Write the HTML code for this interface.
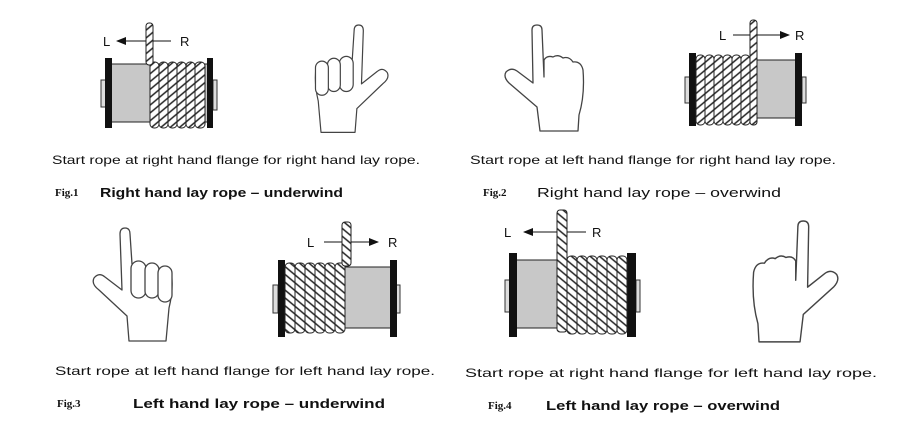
<!DOCTYPE html>
<html><head><meta charset="utf-8"><style>
html,body{margin:0;padding:0;background:#fff;width:899px;height:439px;overflow:hidden}
svg{display:block}
text{font-family:"Liberation Sans",Arial,sans-serif;fill:#111}
.cap{font-size:12px}
.fig{font-family:"Liberation Serif",serif;font-size:11px;font-weight:bold}
.tt{font-size:13px;font-weight:bold}
.lr{font-size:13px;fill:#111}
</style></head><body>
<svg width="899" height="439" viewBox="0 0 899 439" xmlns="http://www.w3.org/2000/svg">
<defs>
<pattern id="h1" width="6" height="6" patternUnits="userSpaceOnUse" patternTransform="rotate(-40)">
<rect width="6" height="6" fill="#fff"/><line x1="0" y1="3" x2="6" y2="3" stroke="#222" stroke-width="1.5"/></pattern>
<pattern id="h2" width="6" height="6" patternUnits="userSpaceOnUse" patternTransform="rotate(40)">
<rect width="6" height="6" fill="#fff"/><line x1="0" y1="3" x2="6" y2="3" stroke="#222" stroke-width="1.5"/></pattern>
<marker id="ar" markerWidth="10" markerHeight="8" refX="9" refY="4" orient="auto" markerUnits="userSpaceOnUse"><path d="M0,0 L10,4 L0,8 Z" fill="#111"/></marker>
<g id="handA" fill="#fff" stroke="#444" stroke-width="1.3" stroke-linejoin="round">
<path d="M38,113 L36,88 L8,62 Q0,56 3,50 Q8,44 14,49 L31,62 L29,6 Q29,0 34,0 Q39,0 39,6 L41,36 L80,42 Q83,60 78,80 L75,113 Z"/>
<rect x="40" y="33" width="15" height="37" rx="7.5"/>
<rect x="54" y="35" width="14" height="35" rx="7"/>
<rect x="67" y="38" width="14" height="36" rx="7"/>
</g>
<g id="handB" fill="#fff" stroke="#444" stroke-width="1.3" stroke-linejoin="round">
<path d="M37,106 L34,82 Q20,70 6,58 Q0,52 3,47 Q8,42 14,46 L30,58 L29,5 Q29,0 34,0 Q39,0 39,5 L41,52 L41,35 Q44,30 50,32 Q55,29 60,33 Q66,31 70,37 Q78,36 80,45 Q82,70 76,90 L75,106 Z"/>
</g>
</defs>

<!-- Fig1 drum -->
<rect x="101" y="80" width="5" height="27" fill="#ddd" stroke="#333"/>
<rect x="213" y="80" width="4" height="30" fill="#ddd" stroke="#333"/>
<rect x="111" y="64" width="97" height="58" fill="#c8c8c8" stroke="#222"/>
<rect x="105" y="58" width="7" height="70" fill="#111"/>
<rect x="207" y="58" width="6" height="70" fill="#111"/>
<g stroke="#222" stroke-width="1" fill="url(#h1)">
<rect x="150" y="62" width="9" height="66" rx="4"/><rect x="159" y="62" width="9" height="66" rx="4"/><rect x="168" y="62" width="9" height="66" rx="4"/><rect x="177" y="62" width="9" height="66" rx="4"/><rect x="186" y="62" width="9" height="66" rx="4"/><rect x="195" y="62" width="10" height="66" rx="4"/>
<rect x="146" y="23" width="7" height="42" rx="3"/>
</g>
<line x1="146" y1="41" x2="117" y2="41" stroke="#111" marker-end="url(#ar)"/>
<line x1="153" y1="41" x2="171" y2="41" stroke="#111"/>
<text class="lr" x="103" y="46">L</text><text class="lr" x="180" y="46">R</text>
<use href="#handA" transform="translate(390,25) scale(-0.92,0.95)"/>

<!-- Fig2 -->
<use href="#handB" transform="translate(503,25)"/>
<rect x="685" y="77" width="5" height="26" fill="#ddd" stroke="#333"/>
<rect x="802" y="77" width="4" height="26" fill="#ddd" stroke="#333"/>
<rect x="750" y="60" width="46" height="58" fill="#c8c8c8" stroke="#222"/>
<rect x="689" y="53" width="7" height="73" fill="#111"/>
<rect x="795" y="53" width="7" height="73" fill="#111"/>
<g stroke="#222" stroke-width="1" fill="url(#h1)">
<rect x="696" y="55" width="9" height="70" rx="4"/><rect x="705" y="55" width="9" height="70" rx="4"/><rect x="714" y="55" width="9" height="70" rx="4"/><rect x="723" y="55" width="9" height="70" rx="4"/><rect x="732" y="55" width="9" height="70" rx="4"/><rect x="741" y="55" width="9" height="70" rx="4"/>
<rect x="750" y="20" width="7" height="105" rx="3"/>
</g>
<line x1="733" y1="35" x2="750" y2="35" stroke="#111"/>
<line x1="757" y1="35" x2="789" y2="35" stroke="#111" marker-end="url(#ar)"/>
<text class="lr" x="719" y="40">L</text><text class="lr" x="795" y="40">R</text>

<!-- Fig3 -->
<use href="#handA" transform="translate(91,228)"/>
<rect x="273" y="285" width="5" height="28" fill="#ddd" stroke="#333"/>
<rect x="396" y="285" width="4" height="28" fill="#ddd" stroke="#333"/>
<rect x="284" y="267" width="107" height="61" fill="#c8c8c8" stroke="#222"/>
<rect x="278" y="260" width="7" height="77" fill="#111"/>
<rect x="390" y="260" width="7" height="77" fill="#111"/>
<g stroke="#222" stroke-width="1" fill="url(#h2)">
<rect x="285" y="263" width="10" height="70" rx="4"/><rect x="295" y="263" width="10" height="70" rx="4"/><rect x="305" y="263" width="10" height="70" rx="4"/><rect x="315" y="263" width="10" height="70" rx="4"/><rect x="325" y="263" width="10" height="70" rx="4"/><rect x="335" y="263" width="10" height="70" rx="4"/>
<rect x="342" y="222" width="9" height="44" rx="3"/>
</g>
<line x1="324" y1="242" x2="342" y2="242" stroke="#111"/>
<line x1="351" y1="242" x2="378" y2="242" stroke="#111" marker-end="url(#ar)"/>
<text class="lr" x="307" y="247">L</text><text class="lr" x="388" y="247">R</text>

<!-- Fig4 -->
<rect x="505" y="280" width="5" height="32" fill="#ddd" stroke="#333"/>
<rect x="636" y="280" width="4" height="32" fill="#ddd" stroke="#333"/>
<rect x="516" y="260" width="112" height="68" fill="#c8c8c8" stroke="#222"/>
<rect x="509" y="253" width="8" height="84" fill="#111"/>
<rect x="627" y="253" width="9" height="84" fill="#111"/>
<g stroke="#222" stroke-width="1" fill="url(#h2)">
<rect x="567" y="256" width="10" height="78" rx="4"/><rect x="577" y="256" width="10" height="78" rx="4"/><rect x="587" y="256" width="10" height="78" rx="4"/><rect x="597" y="256" width="10" height="78" rx="4"/><rect x="607" y="256" width="10" height="78" rx="4"/><rect x="617" y="256" width="10" height="78" rx="4"/>
<rect x="557" y="210" width="10" height="122" rx="3"/>
</g>
<line x1="557" y1="232" x2="524" y2="232" stroke="#111" marker-end="url(#ar)"/>
<line x1="567" y1="232" x2="586" y2="232" stroke="#111"/>
<text class="lr" x="504" y="237">L</text><text class="lr" x="592" y="237">R</text>
<use href="#handB" transform="translate(840,221) scale(-1.08,1.14)"/>

<!-- captions -->
<text class="cap" x="52" y="164" textLength="368" lengthAdjust="spacingAndGlyphs">Start rope at right hand flange for right hand lay rope.</text>
<text class="fig" x="55" y="196">Fig.1</text>
<text class="tt" x="100" y="197" textLength="243" lengthAdjust="spacingAndGlyphs">Right hand lay rope – underwind</text>

<text class="cap" x="470" y="164" textLength="366" lengthAdjust="spacingAndGlyphs">Start rope at left hand flange for right hand lay rope.</text>
<text class="fig" x="483" y="196">Fig.2</text>
<text class="tt" x="537" y="197" textLength="244" lengthAdjust="spacingAndGlyphs" style="font-weight:normal">Right hand lay rope – overwind</text>

<text class="cap" x="55" y="375" textLength="380" lengthAdjust="spacingAndGlyphs">Start rope at left hand flange for left hand lay rope.</text>
<text class="fig" x="57" y="407">Fig.3</text>
<text class="tt" x="133" y="408" textLength="252" lengthAdjust="spacingAndGlyphs">Left hand lay rope – underwind</text>

<text class="cap" x="465" y="377" textLength="412" lengthAdjust="spacingAndGlyphs">Start rope at right hand flange for left hand lay rope.</text>
<text class="fig" x="488" y="409">Fig.4</text>
<text class="tt" x="546" y="410" textLength="234" lengthAdjust="spacingAndGlyphs">Left hand lay rope – overwind</text>
</svg>
</body></html>
